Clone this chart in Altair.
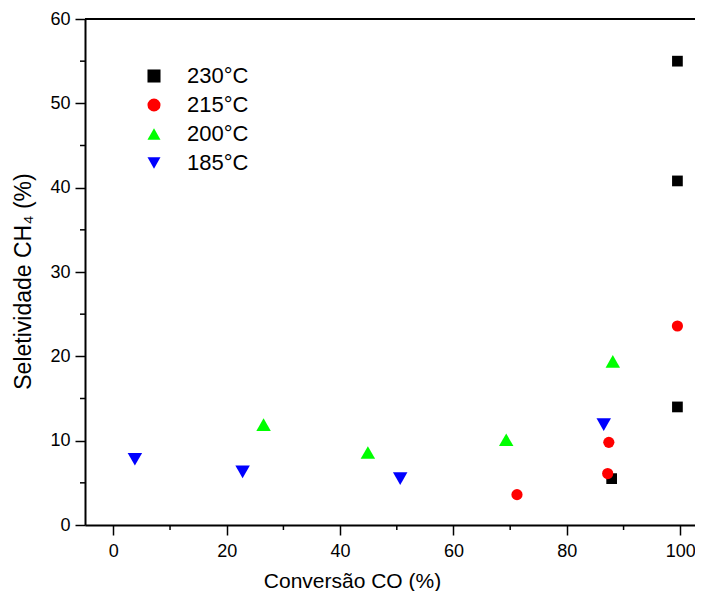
import altair as alt
import pandas as pd

series = ["230°C", "215°C", "200°C", "185°C"]
colors = ["#000000", "#FF0000", "#00FF00", "#0000FF"]
shapes = ["square", "circle", "triangle-up", "triangle-down"]
marker_sizes = [115, 125, 210, 210]

x_230 = [99.5, 99.5, 99.5, 87.9]
y_230 = [55.0, 40.8, 14.0, 5.5]
x_215 = [99.5, 87.4, 87.2, 71.2]
y_215 = [23.6, 9.8, 6.1, 3.6]
x_200 = [26.5, 44.9, 69.3, 88.1]
y_200 = [11.9, 8.6, 10.1, 19.4]
x_185 = [3.8, 22.8, 50.6, 86.5]
y_185 = [7.8, 6.3, 5.5, 11.9]

x_major = [0, 20, 40, 60, 80, 100]
x_minor = [10, 30, 50, 70, 90]
y_major = [0, 10, 20, 30, 40, 50, 60]
y_minor = [5, 15, 25, 35, 45, 55]

rows = []
for name, sz, xs, ys in zip(series, marker_sizes, [x_230, x_215, x_200, x_185],
                            [y_230, y_215, y_200, y_185]):
    for xv, yv in zip(xs, ys):
        rows.append({"serie": name, "conv": xv, "sel": yv, "sz": sz})
df = pd.DataFrame(rows)

W, H = 610, 506
FONT = "Liberation Sans"

xscale = alt.Scale(domain=[-5, 102.6], nice=False, zero=False)
yscale = alt.Scale(domain=[0, 60], nice=False, zero=False)

points = alt.Chart(df).mark_point(filled=True, opacity=1, strokeWidth=0).encode(
    x=alt.X("conv:Q", scale=xscale, title="Conversão CO (%)",
            axis=alt.Axis(values=x_major, tickSize=10, tickWidth=1.5, domainWidth=2,
                          domainColor="black", tickColor="black", grid=False,
                          labelFont=FONT, labelFontSize=18, labelColor="black",
                          labelPadding=7, titleFont=FONT, titleFontSize=21,
                          titleFontWeight="normal", titleColor="black", titlePadding=10,
                          titleX=267)),
    y=alt.Y("sel:Q", scale=yscale, title="Seletividade CH₄ (%)",
            axis=alt.Axis(values=y_major, tickSize=10, tickWidth=1.5, domainWidth=2,
                          domainColor="black", tickColor="black", grid=False,
                          labelFont=FONT, labelFontSize=18, labelColor="black",
                          labelPadding=5, titleFont=FONT, titleFontSize=23,
                          titleFontWeight="normal", titleColor="black", titlePadding=14,
                          titleY=262)),
    color=alt.Color("serie:N", scale=alt.Scale(domain=series, range=colors),
                    legend=alt.Legend(title=None, orient="none", legendX=58, legendY=46,
                                      labelFont=FONT, labelFontSize=22, labelColor="black",
                                      labelOffset=22, rowPadding=7, symbolSize=170,
                                      symbolStrokeWidth=0, symbolOpacity=1)),
    shape=alt.Shape("serie:N", scale=alt.Scale(domain=series, range=shapes)),
    size=alt.Size("sz:Q", scale=None, legend=None),
)

xminor_df = pd.DataFrame({"v": x_minor})
yminor_df = pd.DataFrame({"v": y_minor})

xminor = alt.Chart(xminor_df).mark_rule(color="black", strokeWidth=1.5).encode(
    x=alt.X("v:Q", scale=xscale), y=alt.value(H), y2=alt.value(H + 5))
yminor = alt.Chart(yminor_df).mark_rule(color="black", strokeWidth=1.5).encode(
    y=alt.Y("v:Q", scale=yscale), x=alt.value(0), x2=alt.value(-5))

top_df = pd.DataFrame({"a": [0]})
top = alt.Chart(top_df).mark_rule(color="black", strokeWidth=2).encode(
    x=alt.value(0), x2=alt.value(W), y=alt.value(0))

chart = alt.layer(xminor, yminor, top, points).properties(
    width=W, height=H,
    autosize=alt.AutoSizeParams(type="none"),
    padding={"left": 77, "top": 11, "right": 0, "bottom": 66},
).configure_view(stroke=None).configure(background="white")

chart.save("out.html", embed_options={"renderer": "svg", "actions": False})
